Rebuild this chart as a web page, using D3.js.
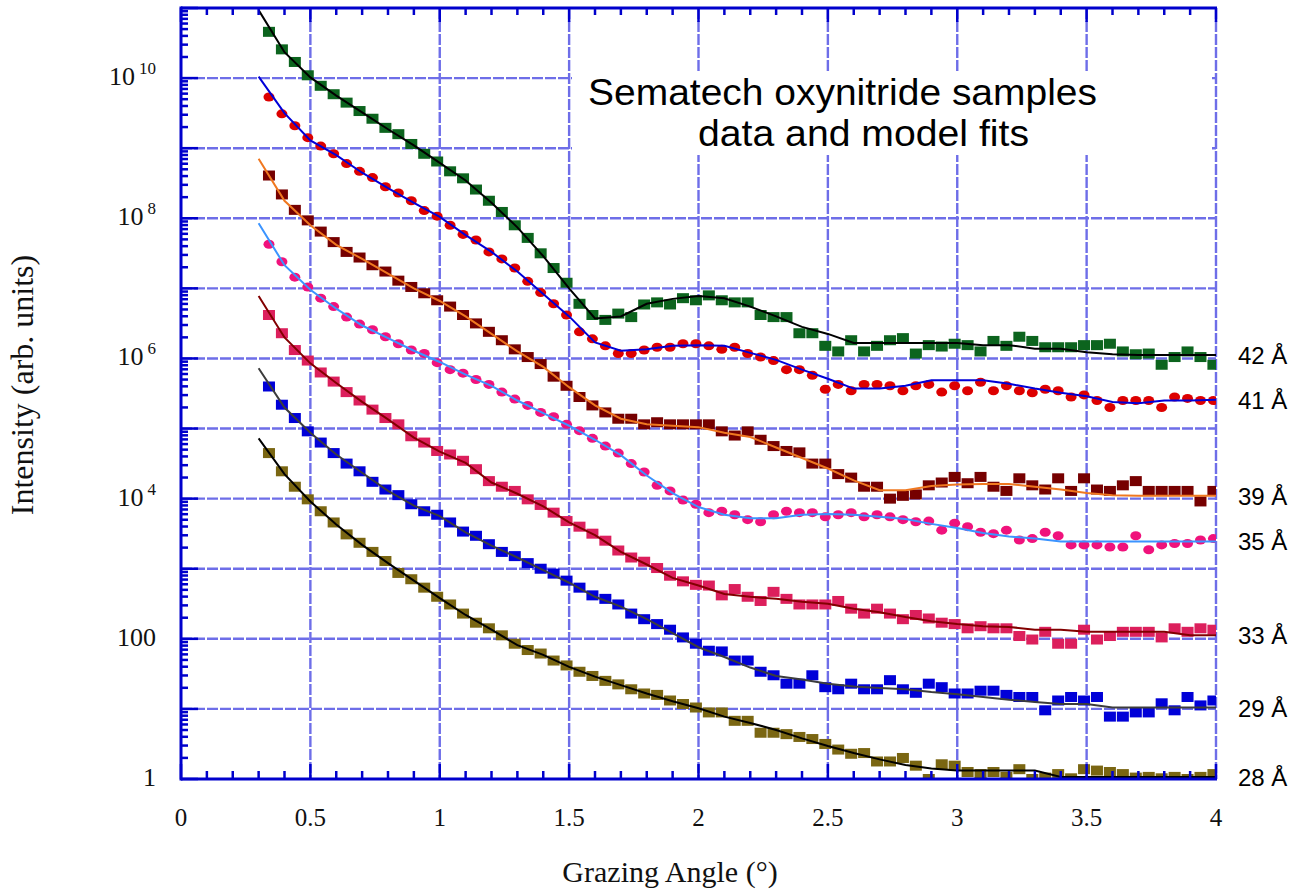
<!DOCTYPE html>
<html>
<head>
<meta charset="utf-8">
<script src="https://cdn.jsdelivr.net/npm/d3@7"></script>
<style>
  body { margin: 0; background: #fff; }
  svg { display: block; }
</style>
</head>
<body>
<div id="chart"></div>
<script>
// measurement grid (deg) and the grid the model curves were sampled on
const dataAngles = d3.range(0.34, 4.0, 0.05);
const fitAngles = d3.range(0.3, 4.0001, 0.1);

// log10(intensity), one array per sample
const s42Data = [10.66,10.41,10.23,10.04,9.89,9.77,9.65,9.53,9.42,9.29,
  9.20,9.06,8.92,8.81,8.67,8.57,8.41,8.25,8.09,7.90,
  7.72,7.50,7.29,7.08,6.78,6.62,6.55,6.64,6.59,6.77,
  6.80,6.77,6.86,6.83,6.90,6.83,6.80,6.80,6.62,6.59,
  6.59,6.36,6.36,6.18,6.10,6.26,6.10,6.18,6.26,6.29,
  6.07,6.19,6.17,6.21,6.19,6.10,6.25,6.18,6.31,6.25,
  6.16,6.16,6.16,6.19,6.19,6.21,6.10,6.06,6.07,5.91,
  6.02,6.10,6.02,5.91];
const s42Fit = [10.97,10.37,10.01,9.75,9.51,9.27,9.04,8.79,8.54,8.22,
  7.87,7.46,7.00,6.57,6.60,6.78,6.85,6.89,6.86,6.74,
  6.60,6.45,6.35,6.22,6.22,6.22,6.22,6.22,6.19,6.19,
  6.14,6.14,6.09,6.06,6.05,6.05,6.05,6.05];

const s41Data = [9.73,9.49,9.32,9.15,9.03,8.92,8.78,8.67,8.58,8.45,
  8.36,8.25,8.11,8.03,7.90,7.77,7.69,7.52,7.42,7.29,
  7.10,6.94,6.78,6.62,6.38,6.28,6.18,6.07,6.07,6.12,
  6.16,6.16,6.21,6.21,6.18,6.13,6.16,6.07,6.02,5.97,
  5.84,5.84,5.76,5.56,5.63,5.54,5.63,5.63,5.61,5.54,
  5.61,5.63,5.52,5.61,5.54,5.66,5.54,5.61,5.54,5.51,
  5.56,5.54,5.45,5.48,5.40,5.30,5.40,5.40,5.40,5.30,
  5.45,5.43,5.40,5.40];
const s41Fit = [10.02,9.50,9.11,8.90,8.65,8.43,8.22,8.02,7.76,7.52,
  7.24,6.92,6.60,6.23,6.11,6.13,6.18,6.19,6.18,6.08,
  5.98,5.84,5.71,5.57,5.57,5.61,5.69,5.69,5.69,5.64,
  5.57,5.51,5.46,5.38,5.36,5.40,5.40,5.41];

const s39Data = [8.61,8.34,8.12,7.97,7.81,7.66,7.52,7.44,7.33,7.24,
  7.11,7.02,6.93,6.83,6.74,6.62,6.50,6.38,6.26,6.13,
  6.02,5.92,5.74,5.61,5.45,5.33,5.23,5.14,5.14,5.06,
  5.09,5.06,5.06,5.06,5.06,4.96,4.90,4.96,4.84,4.75,
  4.68,4.66,4.50,4.50,4.35,4.30,4.17,4.17,4.00,4.04,
  4.06,4.19,4.23,4.31,4.22,4.31,4.17,4.11,4.29,4.19,
  4.13,4.29,4.11,4.29,4.13,4.11,4.19,4.25,4.11,4.11,
  4.11,4.11,3.96,4.11];
const s39Fit = [8.85,8.25,7.90,7.62,7.42,7.21,7.00,6.82,6.60,6.35,
  6.10,5.88,5.59,5.33,5.14,5.06,5.04,5.02,4.94,4.88,
  4.73,4.58,4.43,4.26,4.12,4.12,4.18,4.20,4.21,4.21,
  4.17,4.13,4.08,4.05,4.04,4.04,4.04,4.04];

const s35Data = [7.63,7.38,7.16,7.02,6.86,6.74,6.59,6.49,6.41,6.31,
  6.21,6.12,6.07,5.94,5.84,5.79,5.70,5.63,5.52,5.42,
  5.33,5.23,5.17,5.06,4.97,4.86,4.75,4.65,4.50,4.38,
  4.19,4.11,3.98,3.92,3.80,3.82,3.77,3.70,3.67,3.77,
  3.82,3.80,3.80,3.74,3.77,3.80,3.74,3.77,3.74,3.70,
  3.67,3.68,3.55,3.65,3.60,3.52,3.50,3.55,3.41,3.43,
  3.52,3.47,3.34,3.34,3.34,3.31,3.31,3.47,3.27,3.34,
  3.36,3.36,3.41,3.43];
const s35Fit = [7.93,7.33,6.98,6.71,6.47,6.29,6.11,5.95,5.77,5.61,
  5.40,5.22,5.04,4.84,4.62,4.33,4.08,3.88,3.77,3.72,
  3.72,3.77,3.78,3.77,3.74,3.71,3.64,3.58,3.51,3.46,
  3.43,3.39,3.39,3.39,3.39,3.39,3.39,3.39];

const s33Data = [6.62,6.36,6.12,5.97,5.80,5.67,5.52,5.40,5.27,5.15,
  5.06,4.89,4.80,4.68,4.63,4.54,4.42,4.25,4.17,4.11,
  3.99,3.91,3.80,3.68,3.60,3.50,3.40,3.26,3.16,3.10,
  3.01,2.90,2.82,2.77,2.76,2.62,2.71,2.60,2.54,2.67,
  2.57,2.49,2.49,2.49,2.54,2.43,2.36,2.43,2.36,2.28,
  2.34,2.29,2.23,2.21,2.15,2.18,2.15,2.15,2.04,1.99,
  2.10,1.93,1.93,2.13,1.99,2.04,2.10,2.10,2.10,2.02,
  2.15,2.10,2.15,2.13];
const s33Fit = [6.89,6.30,5.93,5.65,5.38,5.13,4.87,4.67,4.51,4.23,
  4.07,3.89,3.66,3.48,3.24,3.06,2.87,2.76,2.64,2.60,
  2.57,2.53,2.50,2.43,2.38,2.31,2.25,2.21,2.18,2.17,
  2.13,2.13,2.10,2.10,2.10,2.10,2.05,2.05];

const s29Data = [5.60,5.34,5.15,4.96,4.80,4.65,4.50,4.39,4.24,4.13,
  4.05,3.92,3.82,3.77,3.66,3.53,3.47,3.35,3.24,3.18,
  3.08,3.00,2.93,2.83,2.73,2.62,2.57,2.49,2.36,2.28,
  2.21,2.13,2.02,1.93,1.83,1.82,1.69,1.69,1.53,1.48,
  1.36,1.36,1.48,1.31,1.28,1.36,1.28,1.28,1.41,1.28,
  1.23,1.36,1.31,1.22,1.22,1.26,1.26,1.20,1.17,1.17,
  0.98,1.12,1.17,1.12,1.17,0.89,0.89,0.95,0.95,1.08,
  0.98,1.17,1.05,1.12];
const s29Fit = [5.86,5.30,4.94,4.63,4.37,4.11,3.90,3.75,3.52,3.33,
  3.16,2.98,2.80,2.60,2.46,2.28,2.08,1.88,1.74,1.59,
  1.47,1.42,1.36,1.32,1.30,1.28,1.24,1.21,1.17,1.13,
  1.10,1.07,1.07,1.02,1.02,1.02,1.02,1.02];

const s28Data = [4.65,4.39,4.17,3.99,3.82,3.66,3.49,3.37,3.24,3.11,
  2.94,2.85,2.73,2.60,2.49,2.36,2.23,2.15,2.05,1.93,
  1.84,1.79,1.69,1.62,1.53,1.47,1.40,1.35,1.28,1.22,
  1.20,1.12,1.07,1.02,0.95,0.95,0.83,0.83,0.66,0.66,
  0.64,0.60,0.57,0.50,0.42,0.36,0.37,0.25,0.25,0.30,
  0.19,0.00,0.21,0.19,0.10,0.07,0.10,0.03,0.14,0.00,
  0.02,0.07,0.01,0.14,0.12,0.10,0.07,0.02,0.03,0.01,
  0.03,0.00,0.03,0.07];
const s28Fit = [4.86,4.35,3.96,3.63,3.34,3.08,2.83,2.58,2.34,2.13,
  1.91,1.77,1.60,1.46,1.34,1.22,1.11,1.01,0.89,0.80,
  0.70,0.58,0.47,0.37,0.28,0.20,0.15,0.12,0.12,0.12,
  0.12,0.03,0.03,0.03,0.03,0.03,0.03,0.03];

const sampleLabels = ["42 Å", "41 Å", "39 Å", "35 Å", "33 Å", "29 Å", "28 Å"];
const measured = [s42Data, s41Data, s39Data, s35Data, s33Data, s29Data, s28Data];
const fitted = [s42Fit, s41Fit, s39Fit, s35Fit, s33Fit, s29Fit, s28Fit];

const yLabelValues = [1, 100, 1e4, 1e6, 1e8, 1e10];

// styles
const markColors = ["#0c641e", "#dd0000", "#760000", "#f0127c", "#dc1f5c", "#0000d8", "#7a6612"];
const lineColors = ["#000000", "#0000d8", "#f07820", "#3b94ff", "#820000", "#3c3c3c", "#000000"];
const markShapes = ["square", "dot", "square", "dot", "square", "square", "square"];
const axisBlue = "#0000cc";
const gridBlue = "#6e6ee8";

const W = 1295, H = 893;
const plot = {left: 181, right: 1216, top: 8, bottom: 779};

const x = d3.scaleLinear().domain([0, 4]).range([plot.left, plot.right]);
const y = d3.scaleLog().domain([1, 1e11]).range([plot.bottom, plot.top]);

const svg = d3.select("#chart").append("svg")
    .attr("width", W)
    .attr("height", H);

svg.append("rect").attr("width", W).attr("height", H).attr("fill", "#fff");

svg.append("clipPath").attr("id", "plotclip")
  .append("rect")
    .attr("x", plot.left).attr("y", plot.top)
    .attr("width", plot.right - plot.left).attr("height", plot.bottom - plot.top);

// grid
const grid = svg.append("g")
    .attr("stroke", gridBlue)
    .attr("stroke-width", 2.4)
    .attr("stroke-dasharray", "11,2");

grid.selectAll("line.v")
  .data(d3.range(0.5, 4.0001, 0.5))
  .enter().append("line")
    .attr("class", "v")
    .attr("x1", d => x(d)).attr("x2", d => x(d))
    .attr("y1", plot.top).attr("y2", plot.bottom);

grid.selectAll("line.h")
  .data(d3.range(1, 11).map(e => Math.pow(10, e)))
  .enter().append("line")
    .attr("class", "h")
    .attr("x1", plot.left).attr("x2", plot.right)
    .attr("y1", d => y(d)).attr("y2", d => y(d));

// white box behind the title hides the grid there
svg.append("rect")
    .attr("x", 572).attr("y", 71)
    .attr("width", 640).attr("height", 84)
    .attr("fill", "#fff");

const titleFont = "'Liberation Sans', Arial, sans-serif";
svg.append("text")
    .attr("x", 588).attr("y", 105)
    .attr("font-family", titleFont)
    .attr("font-size", 36)
    .attr("textLength", 509)
    .attr("lengthAdjust", "spacingAndGlyphs")
    .text("Sematech oxynitride samples");
svg.append("text")
    .attr("x", 698).attr("y", 146)
    .attr("font-family", titleFont)
    .attr("font-size", 36)
    .attr("textLength", 331)
    .attr("lengthAdjust", "spacingAndGlyphs")
    .text("data and model fits");

// data and fits
const marks = svg.append("g").attr("clip-path", "url(#plotclip)");

const line = d3.line()
    .x(d => x(d[0]))
    .y(d => y(Math.pow(10, d[1])));

measured.forEach((vals, i) => {
  const pts = vals.map((v, k) => [dataAngles[k], v]);
  const g = marks.append("g").attr("fill", markColors[i]);
  if (markShapes[i] === "square") {
    g.selectAll("rect")
      .data(pts)
      .enter().append("rect")
        .attr("x", d => x(d[0]) - 6)
        .attr("y", d => y(Math.pow(10, d[1])) - 5)
        .attr("width", 12)
        .attr("height", 10);
  } else {
    g.selectAll("ellipse")
      .data(pts)
      .enter().append("ellipse")
        .attr("cx", d => x(d[0]))
        .attr("cy", d => y(Math.pow(10, d[1])))
        .attr("rx", 5.5)
        .attr("ry", 4.5);
  }
});

fitted.forEach((vals, i) => {
  marks.append("path")
      .datum(vals.map((v, k) => [fitAngles[k], v]))
      .attr("d", line)
      .attr("fill", "none")
      .attr("stroke", lineColors[i])
      .attr("stroke-width", 2);
});

// sample labels at the right end of each curve
svg.append("g")
    .attr("font-family", titleFont)
    .attr("font-size", 24)
  .selectAll("text")
  .data(fitted)
  .enter().append("text")
    .attr("x", 1238)
    .attr("y", d => y(Math.pow(10, d[d.length - 1])) + 9)
    .text((d, i) => sampleLabels[i]);

// frame and ticks
const frame = svg.append("g")
    .attr("stroke", axisBlue)
    .attr("stroke-width", 2.5);

const xTicks = d3.range(0, 40.5, 1).map(t => t / 10);
const isMajorX = t => Math.abs(t * 2 - Math.round(t * 2)) < 1e-6;

frame.selectAll("line.xb")
  .data(xTicks)
  .enter().append("line")
    .attr("x1", d => x(d)).attr("x2", d => x(d))
    .attr("y1", plot.bottom)
    .attr("y2", d => plot.bottom - (isMajorX(d) ? 15 : 8));

frame.selectAll("line.xt")
  .data(xTicks)
  .enter().append("line")
    .attr("x1", d => x(d)).attr("x2", d => x(d))
    .attr("y1", plot.top)
    .attr("y2", d => plot.top + (isMajorX(d) ? 14 : 7));

const yMajor = d3.range(0, 12).map(e => Math.pow(10, e));
const yMinor = [];
d3.range(0, 11).forEach(e => {
  d3.range(2, 10).forEach(m => yMinor.push(m * Math.pow(10, e)));
});

frame.selectAll("line.ymaj")
  .data(yMajor)
  .enter().append("line")
    .attr("x1", plot.left).attr("x2", plot.left + 17)
    .attr("y1", d => y(d)).attr("y2", d => y(d));

frame.selectAll("line.ymin")
  .data(yMinor)
  .enter().append("line")
    .attr("x1", plot.left).attr("x2", plot.left + 7)
    .attr("y1", d => y(d)).attr("y2", d => y(d));

frame.append("line")
    .attr("stroke-width", 3)
    .attr("x1", plot.left).attr("x2", plot.left)
    .attr("y1", plot.top - 1.5).attr("y2", plot.bottom + 1.5);
frame.append("line")
    .attr("stroke-width", 3)
    .attr("x1", plot.left).attr("x2", plot.right + 1)
    .attr("y1", plot.bottom).attr("y2", plot.bottom);
frame.append("line")
    .attr("stroke-width", 3)
    .attr("x1", plot.left).attr("x2", plot.right + 1)
    .attr("y1", plot.top).attr("y2", plot.top);

// tick labels
const serif = "'Liberation Serif', 'Times New Roman', serif";

svg.append("g")
    .attr("font-family", serif)
    .attr("font-size", 25)
    .attr("text-anchor", "middle")
    .attr("fill", "#111")
  .selectAll("text")
  .data(d3.range(0, 4.0001, 0.5))
  .enter().append("text")
    .attr("x", d => x(d))
    .attr("y", 826)
    .text(d => d3.format("~g")(d));

const yl = svg.append("g")
    .attr("font-family", serif)
    .attr("fill", "#111")
    .attr("text-anchor", "end");

yLabelValues.forEach(v => {
  const e = Math.round(Math.log10(v));
  const t = yl.append("text")
      .attr("x", 156)
      .attr("y", y(v) + 7)
      .attr("font-size", 26);
  if (e < 3) {
    t.text(String(v));
  } else {
    t.append("tspan").text("10");
    t.append("tspan")
        .attr("dx", 4)
        .attr("dy", -11)
        .attr("font-size", 17)
        .text(String(e));
  }
});

// axis titles
svg.append("text")
    .attr("x", 670).attr("y", 882)
    .attr("text-anchor", "middle")
    .attr("font-family", serif)
    .attr("font-size", 30)
    .attr("fill", "#111")
    .text("Grazing Angle (°)");

svg.append("text")
    .attr("transform", "translate(33,385) rotate(-90)")
    .attr("text-anchor", "middle")
    .attr("font-family", serif)
    .attr("font-size", 32)
    .attr("fill", "#111")
    .text("Intensity (arb. units)");
</script>
</body>
</html>
